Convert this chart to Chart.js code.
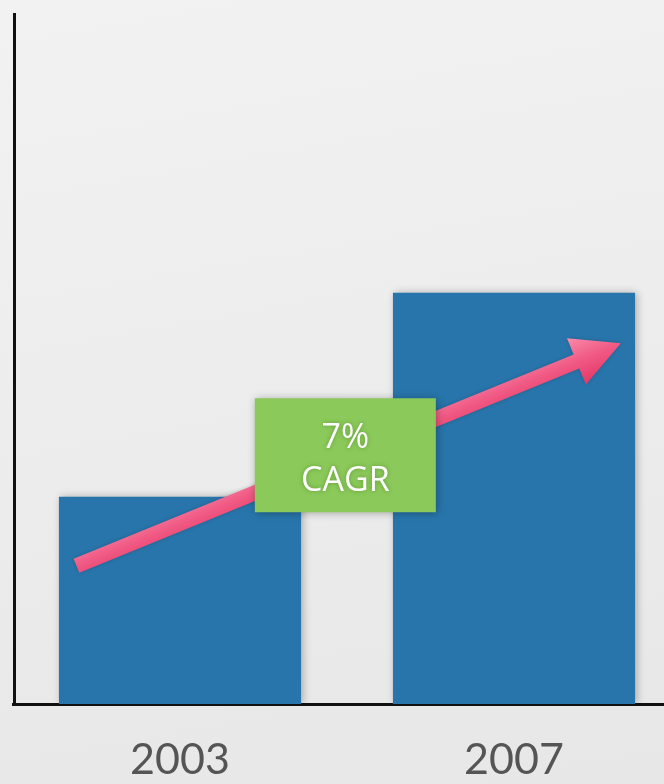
<!DOCTYPE html>
<html>
<head>
<meta charset="utf-8">
<script src="https://cdn.jsdelivr.net/npm/chart.js@4"></script>
<style>
  html, body { margin: 0; padding: 0; }
  body {
    width: 664px; height: 784px; overflow: hidden;
    background: linear-gradient(170deg, #f2f2f2 0%, #ececec 55%, #e7e7e7 100%);
  }
  #wrap { width: 700px; height: 784px; }
</style>
</head>
<body>
<div id="wrap"><canvas id="chart"></canvas></div>
<script>
// chart values
const years = ['2003', '2007'];
const revenue = [30, 59.5];
// arrow drawn in data units: [category index, value]
const arrowFrom = [-0.31, 20];
const arrowTo = [1.32, 52.2];
// label box
const cagrLines = ['7%', 'CAGR'];
const cagrAt = [0.495, 36];

const barShadow = {
  id: 'barShadow',
  beforeDatasetDraw(chart) {
    const ctx = chart.ctx;
    ctx.save();
    ctx.shadowColor = 'rgba(0,0,0,0.28)';
    ctx.shadowBlur = 8;
    ctx.shadowOffsetX = 2;
    ctx.shadowOffsetY = 0;
  },
  afterDatasetDraw(chart) {
    chart.ctx.restore();
  }
};

const extras = {
  id: 'extras',
  afterDatasetsDraw(chart) {
    const ctx = chart.ctx;
    const x = chart.scales.x, y = chart.scales.y;
    const area = chart.chartArea;

    // y axis line
    ctx.save();
    ctx.strokeStyle = '#111';
    ctx.lineWidth = 3;
    ctx.beginPath();
    ctx.moveTo(area.left + 1.5, area.top);
    ctx.lineTo(area.left + 1.5, area.bottom + 1);
    ctx.stroke();
    ctx.restore();

    // growth arrow
    const x0 = x.getPixelForValue(arrowFrom[0]), y0 = y.getPixelForValue(arrowFrom[1]);
    const x1 = x.getPixelForValue(arrowTo[0]), y1 = y.getPixelForValue(arrowTo[1]);
    const ang = Math.atan2(y1 - y0, x1 - x0);
    const len = Math.hypot(x1 - x0, y1 - y0);
    const headLen = 48, headHalf = 25, shaft = 7.5;
    ctx.save();
    ctx.translate(x0, y0);
    ctx.rotate(ang);
    const g = ctx.createLinearGradient(0, -headHalf, 0, headHalf);
    g.addColorStop(0, '#f98aab');
    g.addColorStop(0.5, '#f05a84');
    g.addColorStop(1, '#e63766');
    ctx.fillStyle = g;
    ctx.shadowColor = 'rgba(0,0,0,0.18)';
    ctx.shadowBlur = 4;
    ctx.beginPath();
    ctx.moveTo(0, -shaft);
    ctx.lineTo(len - headLen, -shaft);
    ctx.lineTo(len - headLen, -headHalf);
    ctx.lineTo(len, 0);
    ctx.lineTo(len - headLen, headHalf);
    ctx.lineTo(len - headLen, shaft);
    ctx.lineTo(0, shaft);
    ctx.closePath();
    ctx.fill();
    ctx.restore();

    // CAGR box
    const cx = x.getPixelForValue(cagrAt[0]), cy = y.getPixelForValue(cagrAt[1]);
    const bw = 181, bh = 114;
    ctx.save();
    ctx.shadowColor = 'rgba(0,0,0,0.3)';
    ctx.shadowBlur = 8;
    ctx.shadowOffsetX = 1;
    ctx.shadowOffsetY = 1;
    ctx.fillStyle = '#8bc95a';
    ctx.fillRect(cx - bw / 2, cy - bh / 2, bw, bh);
    ctx.restore();

    ctx.save();
    ctx.fillStyle = '#ffffff';
    ctx.font = '34px "Open Sans", sans-serif';
    ctx.textAlign = 'center';
    ctx.textBaseline = 'middle';
    ctx.shadowColor = 'rgba(60,110,30,0.5)';
    ctx.shadowBlur = 4;
    cagrLines.forEach((t, i) => {
      ctx.fillText(t, cx, cy - 17 + i * 43);
    });
    ctx.restore();
  }
};

new Chart(document.getElementById('chart'), {
  type: 'bar',
  data: {
    labels: years,
    datasets: [{
      data: revenue,
      backgroundColor: '#2875ab',
      borderWidth: 0,
      barPercentage: 0.725,
      categoryPercentage: 1
    }]
  },
  options: {
    responsive: true,
    maintainAspectRatio: false,
    animation: false,
    layout: { padding: { left: 13, right: 19, top: 13, bottom: 0 } },
    plugins: { legend: { display: false }, tooltip: { enabled: false } },
    scales: {
      x: {
        grid: { display: false, drawTicks: true, tickLength: 32 },
        border: { display: true, color: '#111', width: 3 },
        ticks: {
          color: '#555',
          padding: 2.5,
          font: { family: 'Lato', size: 43, lineHeight: 1 }
        }
      },
      y: {
        display: false,
        min: 0,
        max: 100
      }
    }
  },
  plugins: [barShadow, extras]
});
</script>
</body>
</html>
